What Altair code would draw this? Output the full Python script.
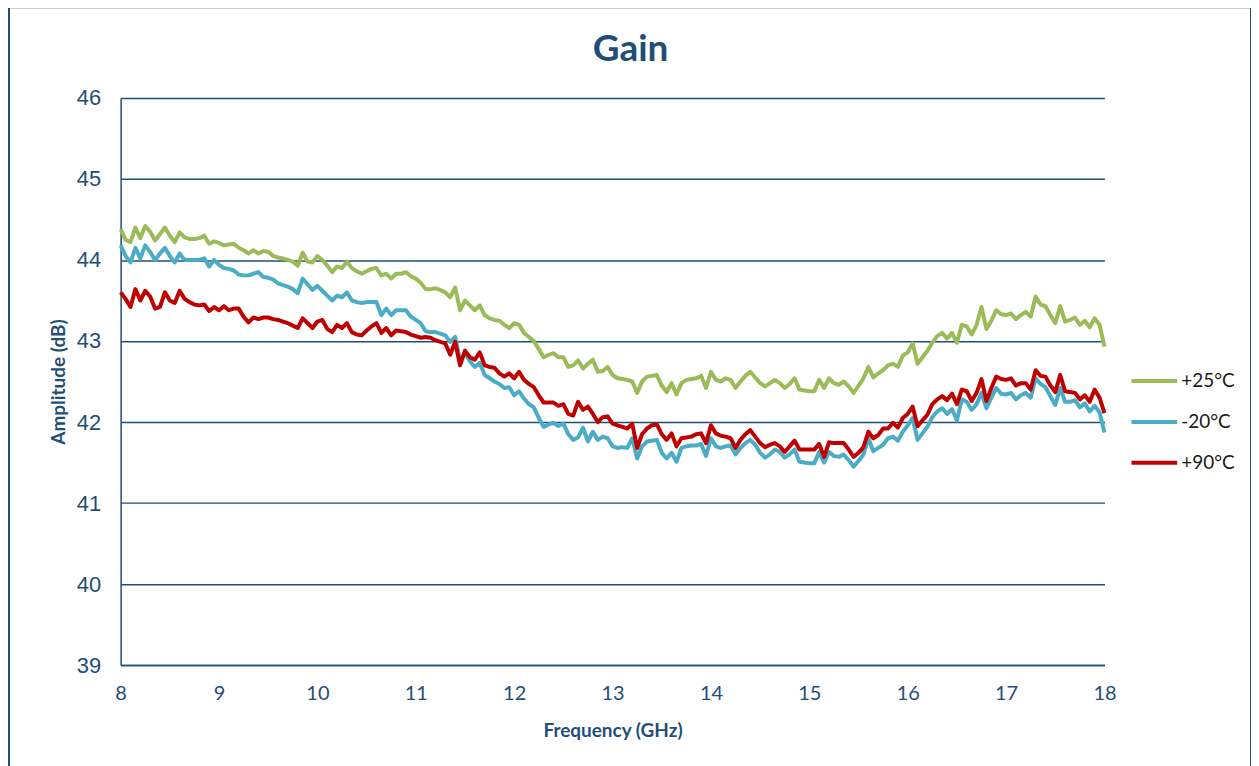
import altair as alt
import pandas as pd

# Frequency sweep (GHz): 8 to 18 GHz in 0.05 GHz steps
FREQ_START = 8.0
FREQ_STEP = 0.05
N_POINTS = 201
freq = [round(FREQ_START + FREQ_STEP * i, 2) for i in range(N_POINTS)]

series_names = ["+25°C", "-20°C", "+90°C"]
series_colors = ["#9bbb59", "#4bacc6", "#c00000"]

gain_p25 = [
    44.38, 44.25, 44.22, 44.40, 44.27, 44.42, 44.35, 44.24, 44.32, 44.40,
    44.30, 44.22, 44.34, 44.28, 44.26, 44.26, 44.27, 44.30, 44.20, 44.23,
    44.21, 44.18, 44.19, 44.20, 44.15, 44.12, 44.08, 44.12, 44.08, 44.11,
    44.10, 44.05, 44.03, 44.02, 44.00, 43.98, 43.93, 44.09, 43.98, 43.97,
    44.05, 44.00, 43.93, 43.85, 43.92, 43.90, 43.98, 43.90, 43.86, 43.83,
    43.86, 43.89, 43.90, 43.81, 43.83, 43.77, 43.83, 43.83, 43.85, 43.80,
    43.77, 43.72, 43.64, 43.64, 43.65, 43.63, 43.60, 43.54, 43.66, 43.38,
    43.50, 43.44, 43.38, 43.44, 43.32, 43.28, 43.26, 43.25, 43.20, 43.16,
    43.22, 43.20, 43.10, 43.05, 43.00, 42.90, 42.80, 42.83, 42.85, 42.80,
    42.80, 42.68, 42.70, 42.76, 42.66, 42.72, 42.77, 42.62, 42.63, 42.68,
    42.58, 42.54, 42.53, 42.52, 42.50, 42.36, 42.50, 42.56, 42.57, 42.58,
    42.45, 42.37, 42.48, 42.34, 42.48, 42.52, 42.53, 42.54, 42.57, 42.42,
    42.62, 42.52, 42.50, 42.54, 42.52, 42.42, 42.50, 42.57, 42.62, 42.55,
    42.48, 42.44, 42.48, 42.52, 42.48, 42.42, 42.47, 42.54, 42.40, 42.39,
    42.38, 42.38, 42.52, 42.42, 42.54, 42.48, 42.46, 42.50, 42.44, 42.36,
    42.45, 42.54, 42.68, 42.55, 42.60, 42.64, 42.70, 42.72, 42.68, 42.82,
    42.86, 42.97, 42.72, 42.80, 42.88, 42.98, 43.06, 43.10, 43.03, 43.10,
    42.98, 43.20, 43.18, 43.08, 43.20, 43.42, 43.15, 43.25, 43.38, 43.33,
    43.32, 43.34, 43.27, 43.32, 43.36, 43.30, 43.55, 43.45, 43.43, 43.32,
    43.22, 43.43, 43.24, 43.26, 43.29, 43.20, 43.25, 43.17, 43.28, 43.20,
    42.93,
]

gain_m20 = [
    44.18, 44.05, 43.97, 44.15, 44.02, 44.18, 44.10, 44.00, 44.08, 44.15,
    44.05, 43.97, 44.08, 44.00, 44.00, 44.00, 44.00, 44.02, 43.92, 44.00,
    43.94, 43.90, 43.89, 43.87, 43.82, 43.81, 43.81, 43.83, 43.85, 43.79,
    43.78, 43.76, 43.71, 43.69, 43.67, 43.64, 43.59, 43.77, 43.70, 43.63,
    43.68, 43.62, 43.56, 43.50, 43.56, 43.54, 43.60, 43.50, 43.48, 43.47,
    43.48, 43.48, 43.48, 43.32, 43.40, 43.32, 43.38, 43.38, 43.38, 43.30,
    43.26, 43.22, 43.12, 43.11, 43.11, 43.09, 43.07, 42.99, 43.05, 42.76,
    42.85, 42.75, 42.68, 42.73, 42.58, 42.54, 42.50, 42.47, 42.42, 42.43,
    42.33, 42.38, 42.29, 42.22, 42.18, 42.05, 41.94, 41.97, 41.99, 41.95,
    41.98, 41.85, 41.78, 41.81, 41.93, 41.76, 41.88, 41.78, 41.82, 41.80,
    41.70, 41.68, 41.69, 41.68, 41.80, 41.55, 41.70, 41.76, 41.77, 41.78,
    41.62, 41.55, 41.62, 41.51, 41.68, 41.70, 41.71, 41.71, 41.73, 41.58,
    41.80, 41.70, 41.68, 41.70, 41.71, 41.60, 41.68, 41.74, 41.78, 41.72,
    41.62, 41.56, 41.60, 41.66, 41.63, 41.56, 41.60, 41.66, 41.51, 41.50,
    41.49, 41.49, 41.63, 41.50, 41.63, 41.58, 41.57, 41.60, 41.53, 41.45,
    41.52, 41.60, 41.80, 41.64, 41.68, 41.72, 41.80, 41.82, 41.77, 41.88,
    41.96, 42.05, 41.78, 41.86, 41.94, 42.06, 42.13, 42.17, 42.10, 42.16,
    42.02, 42.28, 42.25, 42.15, 42.22, 42.36, 42.17, 42.30, 42.42, 42.35,
    42.34, 42.36, 42.28, 42.33, 42.36, 42.30, 42.54, 42.47, 42.43, 42.32,
    42.21, 42.42, 42.25, 42.25, 42.27, 42.18, 42.23, 42.13, 42.20, 42.12,
    41.87,
]

gain_p90 = [
    43.60, 43.52, 43.42, 43.64, 43.50, 43.62, 43.55, 43.40, 43.42, 43.60,
    43.50, 43.47, 43.62, 43.52, 43.48, 43.45, 43.44, 43.45, 43.37, 43.42,
    43.38, 43.43, 43.38, 43.40, 43.40, 43.30, 43.23, 43.29, 43.27, 43.29,
    43.29, 43.27, 43.26, 43.24, 43.22, 43.19, 43.16, 43.28, 43.22, 43.16,
    43.24, 43.26, 43.15, 43.11, 43.20, 43.16, 43.22, 43.11, 43.08, 43.07,
    43.13, 43.18, 43.22, 43.10, 43.16, 43.07, 43.13, 43.12, 43.11, 43.08,
    43.06, 43.04, 43.05, 43.04, 43.01, 42.99, 42.97, 42.83, 42.99, 42.70,
    42.88, 42.80, 42.77, 42.86, 42.70, 42.68, 42.67, 42.60, 42.56, 42.60,
    42.54, 42.62, 42.52, 42.47, 42.43, 42.33, 42.24, 42.24, 42.24, 42.20,
    42.22, 42.10, 42.08, 42.25, 42.15, 42.19, 42.10, 42.00, 42.06, 42.07,
    41.98, 41.96, 41.94, 41.92, 41.98, 41.68, 41.85, 41.92, 41.96, 41.97,
    41.85, 41.78, 41.86, 41.70, 41.80, 41.81, 41.82, 41.85, 41.86, 41.74,
    41.96, 41.86, 41.83, 41.82, 41.80, 41.68, 41.78, 41.85, 41.90, 41.82,
    41.74, 41.69, 41.72, 41.74, 41.70, 41.63, 41.70, 41.77, 41.66, 41.66,
    41.66, 41.66, 41.73, 41.57, 41.75, 41.74, 41.74, 41.74, 41.66, 41.57,
    41.62, 41.69, 41.88, 41.80, 41.84, 41.92, 41.92, 41.99, 41.93, 42.05,
    42.10, 42.19, 41.95, 42.02, 42.09, 42.22, 42.28, 42.32, 42.27, 42.35,
    42.22, 42.40, 42.38, 42.26, 42.36, 42.53, 42.26, 42.42, 42.56, 42.53,
    42.52, 42.54, 42.45, 42.48, 42.48, 42.40, 42.64, 42.57, 42.56, 42.45,
    42.37, 42.58, 42.38, 42.37, 42.36, 42.28, 42.33, 42.25, 42.40, 42.30,
    42.11,
]

x_ticks = list(range(8, 19))
y_ticks = list(range(39, 47))

frames = []
for name, vals in zip(series_names, [gain_p25, gain_m20, gain_p90]):
    frames.append(pd.DataFrame({"freq": freq, "gain": vals, "series": name}))
df = pd.concat(frames, ignore_index=True)

NAVY = "#1f4e79"

lines = alt.Chart(df).mark_line(strokeWidth=4, strokeJoin="round").encode(
    x=alt.X(
        "freq:Q",
        scale=alt.Scale(domain=[8, 18], nice=False, zero=False),
        axis=alt.Axis(
            values=x_ticks, title="Frequency (GHz)", grid=False, ticks=False,
            labelFlush=False,
            labelFont="Lato", labelFontSize=20, labelColor=NAVY, labelPadding=19,
            titleFont="Lato", titleFontSize=19, titleFontWeight="bold",
            titleColor=NAVY, titlePadding=18,
            domainColor=NAVY, domainWidth=1.5,
        ),
    ),
    y=alt.Y(
        "gain:Q",
        scale=alt.Scale(domain=[39, 46], nice=False, zero=False),
        axis=alt.Axis(
            values=y_ticks, title="Amplitude (dB)", grid=True, ticks=False,
            labelFlush=False,
            gridColor=NAVY, gridWidth=1.5, gridOpacity=1,
            labelFont="Liberation Sans", labelFontSize=22, labelColor=NAVY,
            labelPadding=20,
            titleFont="Lato", titleFontSize=19, titleFontWeight="bold",
            titleColor=NAVY, titlePadding=8,
            domainColor=NAVY, domainWidth=1.5,
        ),
    ),
    color=alt.Color(
        "series:N",
        scale=alt.Scale(domain=series_names, range=series_colors),
        legend=alt.Legend(
            title=None, orient="none", legendX=1012, legendY=259,
            symbolType="stroke", symbolStrokeWidth=4, symbolSize=2100,
            labelFont="Lato", labelFontSize=19, labelColor="#1a1a1a",
            labelOffset=2, rowPadding=6,
        ),
    ),
)

frame = alt.Chart(alt.Data(values=[{}])).mark_rect(
    fill=None, stroke=NAVY, strokeWidth=2
).encode(
    x=alt.value(-112), x2=alt.value(1134),
    y=alt.value(-91), y2=alt.value(700),
)

chart = alt.layer(frame, lines).properties(
    width=987,
    height=569,
    title=alt.TitleParams(
        "Gain", font="Lato", fontSize=37, fontWeight="bold", color=NAVY,
        anchor="middle", dx=18, offset=-63,
    ),
    padding={"left": 113, "top": 89, "right": 147, "bottom": 100},
    autosize=alt.AutoSizeParams(type="none"),
).configure_view(stroke=None)

chart.save("out.html", embed_options={"renderer": "svg", "actions": False})
